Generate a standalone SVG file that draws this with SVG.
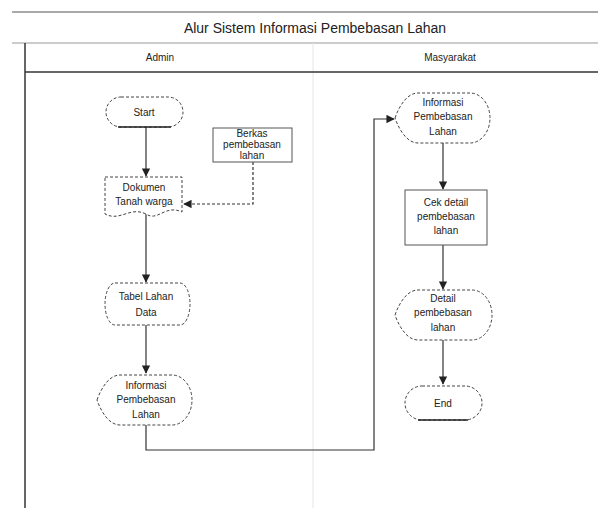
<svg xmlns="http://www.w3.org/2000/svg" width="598" height="508" viewBox="0 0 598 508">
<defs>
<marker id="ah" viewBox="0 0 10 10" refX="9" refY="5" markerWidth="7" markerHeight="7" orient="auto-start-reverse"><path d="M0,0 L10,5 L0,10 z" fill="#222"/></marker>
<style>
text{font-family:"Liberation Sans",Arial,sans-serif;font-size:10px;fill:#222;text-anchor:middle}
.title{font-size:14px}
.hdr{font-size:10px}
.shape{fill:#fff;stroke:#444;stroke-width:1;stroke-dasharray:3 2}
.solid{fill:#fff;stroke:#555;stroke-width:1}
.edge{fill:none;stroke:#333;stroke-width:1.2}
.dash{fill:none;stroke:#333;stroke-width:1.2;stroke-dasharray:3 2}
</style>
</defs>
<rect width="598" height="508" fill="#fff"/>
<g id="pool">
<line x1="12" y1="12" x2="598" y2="12" stroke="#555" stroke-width="1.2"/>
<text class="title" x="315" y="33">Alur Sistem Informasi Pembebasan Lahan</text>
<line x1="12" y1="43" x2="598" y2="43" stroke="#999" stroke-width="1"/>
<line x1="25" y1="43" x2="25" y2="508" stroke="#333" stroke-width="1.5"/>
<line x1="313" y1="43" x2="313" y2="508" stroke="#e6e6e6" stroke-width="1"/>
<line x1="25" y1="72" x2="598" y2="72" stroke="#333" stroke-width="1.5"/>
<text class="hdr" x="160" y="61">Admin</text>
<text class="hdr" x="450" y="61">Masyarakat</text>
</g>
<g id="connectors">
<line class="edge" x1="146" y1="127" x2="146" y2="176" marker-end="url(#ah)"/>
<polyline class="dash" points="253,162 253,204 184,204" marker-end="url(#ah)"/>
<line class="edge" x1="146" y1="214" x2="146" y2="282" marker-end="url(#ah)"/>
<line class="edge" x1="146" y1="325" x2="146" y2="373" marker-end="url(#ah)"/>
<polyline class="edge" points="146,425 146,450 374,450 374,119 394,119" marker-end="url(#ah)"/>
<line class="edge" x1="443" y1="143" x2="443" y2="189" marker-end="url(#ah)"/>
<line class="edge" x1="443" y1="245" x2="443" y2="289" marker-end="url(#ah)"/>
<line class="edge" x1="443" y1="340" x2="443" y2="384" marker-end="url(#ah)"/>
</g>
<g id="start">
<rect class="shape" x="106" y="97" width="77" height="30" rx="15"/>
<line x1="118" y1="127" x2="171" y2="127" stroke="#222" stroke-width="1.5"/>
<text x="144" y="116">Start</text>
</g>
<g id="berkas">
<rect class="solid" x="213" y="128" width="79" height="34"/>
<text x="252" y="137">Berkas</text>
<text x="252" y="148">pembebasan</text>
<text x="252" y="159">lahan</text>
</g>
<g id="dokumen">
<path class="shape" d="M105,177 L182,177 L182,212 C165,204 158,222 146,214 C130,206 120,222 105,214 Z"/>
<text x="144" y="191">Dokumen</text>
<text x="144" y="205">Tanah warga</text>
</g>
<g id="tabel">
<path class="shape" d="M115,283 L180,283 A10,21 0 0 1 180,325 L115,325 A10,21 0 0 1 115,283 Z"/>
<text x="146" y="300">Tabel Lahan</text>
<text x="146" y="316">Data</text>
</g>
<g id="info1">
<path class="shape" d="M97,400 C102,386 110,375 120,375 L172,375 A20,25 0 0 1 172,425 L120,425 C110,425 102,414 97,400 Z"/>
<text x="146" y="389">Informasi</text>
<text x="146" y="403">Pembebasan</text>
<text x="146" y="418">Lahan</text>
</g>
<g id="info2">
<path class="shape" d="M395,118 C400,104 408,93 418,93 L470,93 A20,25 0 0 1 470,143 L418,143 C408,143 400,132 395,118 Z"/>
<text x="443" y="106">Informasi</text>
<text x="443" y="120">Pembebasan</text>
<text x="443" y="135">Lahan</text>
</g>
<g id="cek">
<rect class="solid" x="405" y="190" width="82" height="55"/>
<text x="446" y="206">Cek detail</text>
<text x="446" y="220">pembebasan</text>
<text x="446" y="234">lahan</text>
</g>
<g id="detail">
<path class="shape" d="M395,315 C400,301 408,290 418,290 L472,290 A20,25 0 0 1 472,340 L418,340 C408,340 400,329 395,315 Z"/>
<text x="443" y="302">Detail</text>
<text x="443" y="316">pembebasan</text>
<text x="443" y="331">lahan</text>
</g>
<g id="end">
<rect class="shape" x="405" y="386" width="77" height="34" rx="17"/>
<line x1="418" y1="420" x2="468" y2="420" stroke="#222" stroke-width="1.5"/>
<text x="443" y="407">End</text>
</g>
</svg>
